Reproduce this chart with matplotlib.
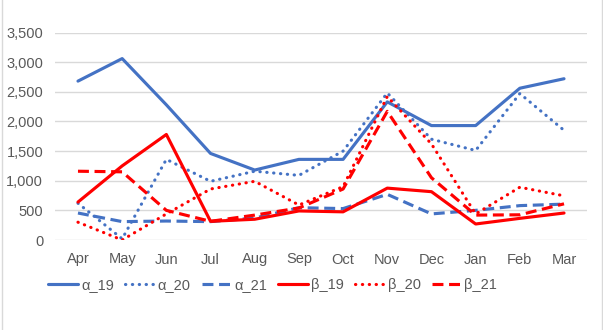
import matplotlib
matplotlib.use("Agg")
import matplotlib.pyplot as plt
from matplotlib.lines import Line2D

months = ["Apr", "May", "Jun", "Jul", "Aug", "Sep", "Oct", "Nov", "Dec", "Jan", "Feb", "Mar"]
yticks = [0, 500, 1000, 1500, 2000, 2500, 3000, 3500]

alpha_19 = [2680, 3060, 2280, 1460, 1180, 1360, 1360, 2330, 1930, 1930, 2560, 2720]
alpha_20 = [620, 20, 1360, 990, 1160, 1090, 1500, 2480, 1700, 1510, 2470, 1850]
alpha_21 = [455, 310, 320, 310, 370, 545, 530, 770, 440, 500, 580, 605]
beta_19 = [640, 1250, 1780, 315, 350, 490, 475, 875, 815, 270, 365, 455]
beta_20 = [300, 0, 440, 860, 990, 590, 900, 2420, 1620, 440, 890, 745]
beta_21 = [1160, 1150, 500, 315, 420, 540, 860, 2170, 1050, 420, 425, 610]

series = [
    ("α_19", alpha_19, "#4472C4", "-"),
    ("α_20", alpha_20, "#4472C4", (0, (0.1, 2.1))),
    ("α_21", alpha_21, "#4472C4", (0, (3.5, 1.8))),
    ("β_19", beta_19, "#FF0000", "-"),
    ("β_20", beta_20, "#FF0000", (0, (0.1, 2.1))),
    ("β_21", beta_21, "#FF0000", (0, (3.5, 1.8))),
]

plt.rcParams["font.family"] = ["Liberation Sans", "DejaVu Sans"]

fig = plt.figure(figsize=(6.03, 3.30), dpi=100)
ax = fig.add_axes([55 / 603, 90 / 330, 532 / 603, 207.5 / 330])

x = list(range(len(months)))
handles = []
for name, vals, col, ls in series:
    dotted = isinstance(ls, tuple) and ls[1][0] < 0.5
    ln, = ax.plot(x, vals, color=col, lw=2.25, linestyle=ls,
                  solid_capstyle="round", solid_joinstyle="round",
                  dash_capstyle="round" if dotted else "butt", label=name)
    handles.append(ln)

ax.set_xlim(-0.52, len(months) - 0.48)
ax.set_ylim(0, 3500)
ax.set_yticks(yticks)
ax.set_yticklabels([f"{v:,}" for v in yticks])
ax.set_xticks(x)
ax.set_xticklabels(months)
ax.tick_params(axis="both", length=0, labelsize=10.5, labelcolor="#595959")
ax.tick_params(axis="y", pad=8.5)
ax.tick_params(axis="x", pad=9)
ax.grid(axis="y", color="#D9D9D9", lw=1)
ax.set_axisbelow(True)
for s in ax.spines.values():
    s.set_visible(False)

leg = fig.legend(handles=handles, loc="center left", bbox_to_anchor=(38 / 603, 1 - 285 / 330),
                 ncol=6, frameon=False, fontsize=10.5, handlelength=2.05,
                 handletextpad=0.2, columnspacing=0.75, labelcolor="#595959",
                 borderpad=0.2)

fig.add_artist(Line2D([1.5 / 603, 1.5 / 603], [0, 1], color="#D9D9D9", lw=1))
fig.add_artist(Line2D([601.5 / 603, 601.5 / 603], [0, 1], color="#D9D9D9", lw=1))

fig.savefig("out.png", dpi=100)
